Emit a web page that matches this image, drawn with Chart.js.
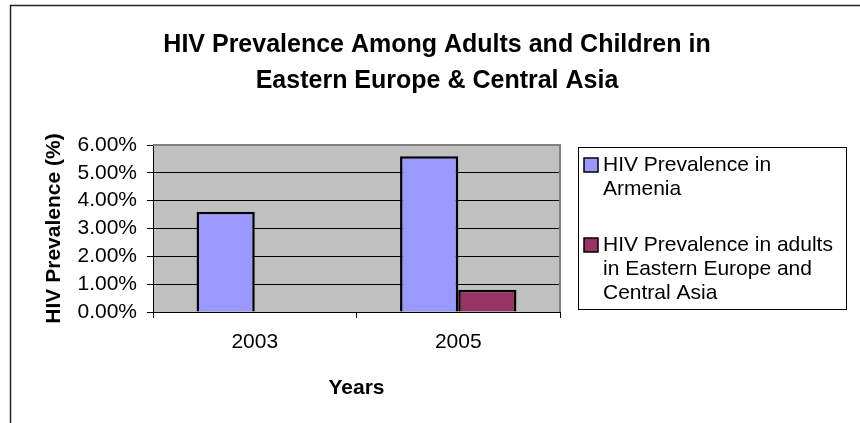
<!DOCTYPE html>
<html>
<head>
<meta charset="utf-8">
<script src="https://cdn.jsdelivr.net/npm/chart.js@4"></script>
<style>
    html, body { margin: 0; padding: 0; background: #fff; }
    #wrap { width: 860px; height: 423px; position: relative; }
</style>
</head>
<body>
<div id="wrap"><canvas id="grafico"></canvas></div>
<script>
// Dados
const anos = ['2003', '2005'];
const armenia = [3.6, 5.6];
const europaAsia = [null, 0.8];
const nomesSeries = [
    ['HIV Prevalence in', 'Armenia'],
    ['HIV Prevalence in adults', 'in Eastern Europe and', 'Central Asia']
];
const tituloLinhas = ['HIV Prevalence Among Adults and Children in', 'Eastern Europe & Central Asia'];
const tituloY = 'HIV Prevalence (%)';
const tituloX = 'Years';

const fonte = '"Liberation Sans", Arial, sans-serif';

// Fundo cinza, moldura, título e legenda (estilo Excel)
const molduraExcel = {
    id: 'molduraExcel',
    beforeDraw(chart) {
        const { ctx, chartArea: a } = chart;
        ctx.save();
        ctx.fillStyle = '#fff';
        ctx.fillRect(0, 0, chart.width, chart.height);
        ctx.fillStyle = '#C0C0C0';
        ctx.fillRect(a.left, a.top, a.right - a.left, a.bottom - a.top);
        ctx.restore();
    },
    afterDraw(chart) {
        const { ctx, chartArea: a } = chart;
        ctx.save();
        // borda da área do gráfico (cima e direita)
        ctx.strokeStyle = '#808080';
        ctx.lineWidth = 2;
        ctx.beginPath();
        ctx.moveTo(a.left, a.top);
        ctx.lineTo(a.right, a.top);
        ctx.lineTo(a.right, a.bottom);
        ctx.stroke();

        // moldura externa
        ctx.strokeStyle = '#222';
        ctx.lineWidth = 1.5;
        ctx.strokeRect(10.5, 5.5, 900, 500);

        // título
        ctx.fillStyle = '#000';
        ctx.font = 'bold 25px ' + fonte;
        ctx.textAlign = 'center';
        ctx.textBaseline = 'middle';
        ctx.fillText(tituloLinhas[0], 437, 45);
        ctx.fillText(tituloLinhas[1], 437, 81);

        // legenda
        ctx.fillStyle = '#fff';
        ctx.fillRect(578, 147, 268, 162);
        ctx.strokeStyle = '#000';
        ctx.lineWidth = 1;
        ctx.strokeRect(578.5, 147.5, 268, 162);
        const inicios = [165, 245];
        ctx.font = '21px ' + fonte;
        ctx.textAlign = 'left';
        chart.data.datasets.forEach((ds, i) => {
            const y0 = inicios[i];
            ctx.fillStyle = ds.backgroundColor;
            ctx.fillRect(584, y0 - 7, 14, 14);
            ctx.strokeStyle = '#000';
            ctx.lineWidth = 1.5;
            ctx.strokeRect(584, y0 - 7, 14, 14);
            ctx.fillStyle = '#000';
            nomesSeries[i].forEach((linha, j) => {
                ctx.fillText(linha, 603, y0 + j * 24);
            });
        });
        ctx.restore();
    }
};

const ctxGrafico = document.getElementById('grafico').getContext('2d');
new Chart(ctxGrafico, {
    type: 'bar',
    data: {
        labels: anos,
        datasets: [{
            label: nomesSeries[0].join(' '),
            data: armenia,
            backgroundColor: '#9999FF',
            borderColor: '#000',
            borderWidth: 2.5,
            barPercentage: 1.0,
            categoryPercentage: 0.572
        }, {
            label: nomesSeries[1].join(' '),
            data: europaAsia,
            backgroundColor: '#993366',
            borderColor: '#000',
            borderWidth: 2.5,
            barPercentage: 1.0,
            categoryPercentage: 0.572
        }]
    },
    options: {
        responsive: true,
        maintainAspectRatio: false,
        animation: false,
        layout: {
            padding: { top: 145, left: 0, right: 300, bottom: 0 }
        },
        plugins: {
            legend: { display: false },
            title: { display: false },
            tooltip: { enabled: false }
        },
        scales: {
            x: {
                afterFit(scale) { scale.height = 111; },
                grid: {
                    offset: true,
                    drawOnChartArea: false,
                    drawTicks: true,
                    tickLength: 6,
                    color: '#000'
                },
                border: { color: '#000', width: 1 },
                ticks: {
                    color: '#000',
                    padding: 12,
                    font: { family: fonte, size: 21 }
                },
                title: {
                    display: true,
                    text: tituloX,
                    color: '#000',
                    font: { family: fonte, size: 21, weight: 'bold' },
                    padding: { top: 0, bottom: 22 }
                }
            },
            y: {
                afterFit(scale) { scale.width = 153; },
                min: 0,
                max: 6,
                grid: {
                    color: '#000',
                    lineWidth: 1,
                    drawTicks: true,
                    tickLength: 6
                },
                border: { color: '#000', width: 1 },
                ticks: {
                    stepSize: 1,
                    autoSkip: false,
                    color: '#000',
                    padding: 10,
                    font: { family: fonte, size: 21, lineHeight: 1 },
                    callback: v => v.toFixed(2) + '%'
                },
                title: {
                    display: true,
                    text: tituloY,
                    color: '#000',
                    font: { family: fonte, size: 21, weight: 'bold' },
                    padding: { top: 42, bottom: 0 }
                }
            }
        }
    },
    plugins: [molduraExcel]
});
</script>
</body>
</html>
